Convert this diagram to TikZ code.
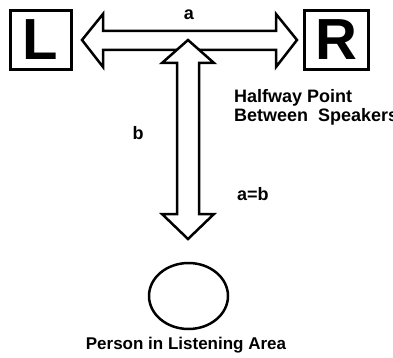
\documentclass[tikz,border=0pt]{standalone}
\usepackage{fontspec}
\setmainfont{Liberation Sans}
\usetikzlibrary{shapes.geometric}
\begin{document}
\begin{tikzpicture}[x=1pt,y=-1pt,
  spk/.style={draw,line width=3pt,minimum width=61pt,minimum height=59pt,inner sep=0pt,font=\fontsize{58}{58}\selectfont\bfseries},
  arr/.style={draw,line width=2.5pt,fill=white,line join=miter},
  lbl/.style={inner sep=0pt,font=\fontsize{18}{18}\selectfont\bfseries},
  person/.style={draw,line width=2.5pt,ellipse,minimum width=79pt,minimum height=66pt,inner sep=0pt}]
\useasboundingbox (0,0) rectangle (393,358);
\begin{scope}
\clip (0,0) rectangle (393,358);
\node[spk] (L) at (40.5,40) {L};
\node[spk,minimum width=64pt] (R) at (336.3,40) {R};
% horizontal double arrow
\draw[arr] (82,40) -- (103,14) -- (103,31) -- (276,31) -- (276,14) -- (297,40)
  -- (276,67) -- (276,50) -- (103,50) -- (103,67) -- cycle;
% vertical double arrow
\draw[arr] (188,40) -- (214,63) -- (199,63) -- (199,214) -- (214,214) -- (188,239)
  -- (162,214) -- (177,214) -- (177,63) -- (162,63) -- cycle;
\node[person] (P) at (188.5,296) {};
\node[lbl,anchor=base] (a) at (189,20) {a};
\node[lbl,anchor=base] (b) at (138,140) {b};
\node[lbl,anchor=base west] (ab) at (237,200) {a=b};
\node[lbl,anchor=base west] (h1) at (234,103) {Halfway Point};
\node[lbl,anchor=base west] (h2) at (234,122) {Between~~Speakers};
\node[lbl,anchor=base,font=\fontsize{17}{17}\selectfont\bfseries] (pl) at (186,349) {Person in Listening Area};
\end{scope}
\end{tikzpicture}
\end{document}
